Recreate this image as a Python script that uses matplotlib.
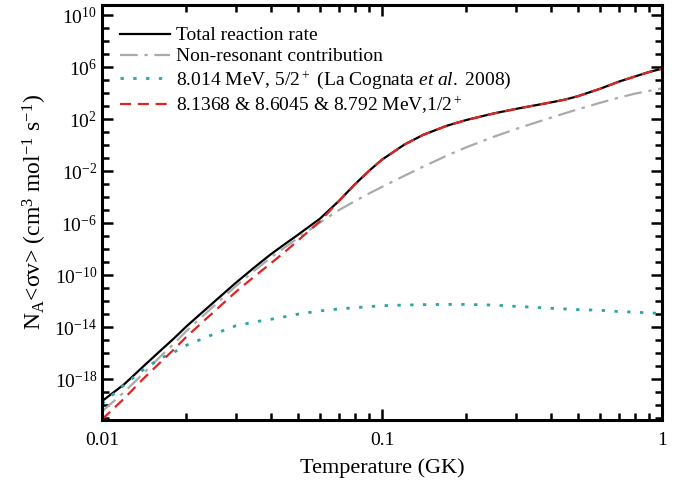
import numpy as np
import matplotlib as mpl
import matplotlib.pyplot as plt
from matplotlib.ticker import LogLocator, FixedLocator, NullFormatter, FixedFormatter

mpl.rcParams['font.family'] = 'Liberation Serif'
mpl.rcParams['mathtext.fontset'] = 'custom'
mpl.rcParams['mathtext.rm'] = 'Liberation Serif'
mpl.rcParams['mathtext.it'] = 'Liberation Serif:italic'
mpl.rcParams['mathtext.bf'] = 'Liberation Serif:bold'

# temperature grid (GK)
T = [0.01, 0.012, 0.014, 0.016, 0.018, 0.02, 0.025, 0.03, 0.035, 0.04, 0.045,
     0.05, 0.06, 0.07, 0.08, 0.09, 0.1, 0.12, 0.14, 0.17, 0.2, 0.25, 0.3,
     0.35, 0.4, 0.45, 0.5, 0.6, 0.7, 0.8, 0.9, 1.0]

# log10 of the rates
log_total = [-19.7, -18.4, -17.05, -15.9, -14.9, -13.95, -12.1, -10.6, -9.4, -8.4, -7.6,
             -6.9, -5.65, -4.3, -3.0, -1.95, -1.1, 0.05, 0.8, 1.5, 1.95, 2.45, 2.8,
             3.07, 3.3, 3.52, 3.78, 4.35, 4.9, 5.3, 5.65, 5.9]
log_nonres = [-20.5, -19.0, -17.6, -16.35, -15.3, -14.3, -12.4, -10.85, -9.65, -8.65, -7.85,
              -7.15, -5.95, -5.0, -4.3, -3.7, -3.2, -2.35, -1.65, -0.8, -0.15, 0.65, 1.25,
              1.72, 2.12, 2.47, 2.77, 3.27, 3.67, 3.98, 4.2, 4.38]
log_lacog = [-19.9, -18.45, -17.3, -16.45, -15.95, -15.4, -14.55, -13.9, -13.6, -13.4, -13.2,
             -13.0, -12.75, -12.6, -12.5, -12.42, -12.35, -12.3, -12.27, -12.25, -12.25, -12.3, -12.4,
             -12.47, -12.55, -12.6, -12.65, -12.7, -12.8, -12.85, -12.9, -12.95]
log_res = [-21.1, -19.5, -18.0, -16.8, -15.75, -14.75, -12.85, -11.3, -10.1, -9.1, -8.2,
           -7.35, -5.85, -4.32, -3.01, -1.95, -1.1, 0.05, 0.8, 1.5, 1.95, 2.45, 2.8,
           3.07, 3.3, 3.52, 3.78, 4.35, 4.9, 5.3, 5.65, 5.9]

labels = ['Total reaction rate',
          'Non-resonant contribution',
          r'8.014 MeV, 5/2$^+$ (La Cognata $et\ al.$ 2008)',
          r'8.1368 & 8.6045 & 8.792 MeV,1/2$^+$']

fig = plt.figure(figsize=(6.94, 4.87), dpi=100)
ax = fig.add_axes([0.147, 0.1376, 0.807, 0.852])

T = np.array(T)
ax.plot(T, 10**np.array(log_total), color='k', lw=1.6, ls='-', label=labels[0])
ax.plot(T, 10**np.array(log_nonres), color='#aaaaaa', lw=1.6, ls=(0, (8, 3, 1.5, 3)), label=labels[1])
ax.plot(T, 10**np.array(log_lacog), color='#2aa6a6', lw=2.0, ls=(0, (1.2, 3.4)), label=labels[2])
ax.plot(T, 10**np.array(log_res), color='#e02424', lw=1.6, ls=(0, (5, 3)), label=labels[3])

ax.set_xscale('log')
ax.set_yscale('log')
ax.set_xlim(0.01, 1)
ax.set_ylim(10**-21.15, 10**10.8)

ax.xaxis.set_major_locator(FixedLocator([0.01, 0.1, 1]))
ax.xaxis.set_major_formatter(FixedFormatter(['0.01', '0.1', '1']))
ax.xaxis.set_minor_locator(LogLocator(base=10, subs=np.arange(2, 10)))
ax.xaxis.set_minor_formatter(NullFormatter())

ymaj = [10.0**k for k in range(-18, 11, 4)]
ax.yaxis.set_major_locator(FixedLocator(ymaj))
ax.yaxis.set_major_formatter(FixedFormatter([r'10$^{%d}$' % k for k in range(-18, 11, 4)]))
ax.yaxis.set_minor_locator(FixedLocator([10.0**k for k in range(-21, 11)]))
ax.yaxis.set_minor_formatter(NullFormatter())

ax.tick_params(which='both', direction='in', top=True, right=True, width=1.8, labelsize=14)
ax.tick_params(which='major', length=8)
ax.tick_params(which='minor', length=5)
ax.tick_params(axis='x', pad=9)
for s in ax.spines.values():
    s.set_linewidth(2.2)

ax.set_xlabel('Temperature (GK)', fontsize=16, labelpad=6)
ax.set_ylabel(r'N$_{\rm A}$<σv> (cm$^{3}$ mol$^{-1}$ s$^{-1}$)', fontsize=17, labelpad=4)

ax.legend(loc='upper left', frameon=False, fontsize=14, handlelength=2.6,
          handletextpad=0.3, labelspacing=0.18, borderaxespad=0.5,
          bbox_to_anchor=(0.0, 0.99))

fig.savefig('out.png', dpi=100)
